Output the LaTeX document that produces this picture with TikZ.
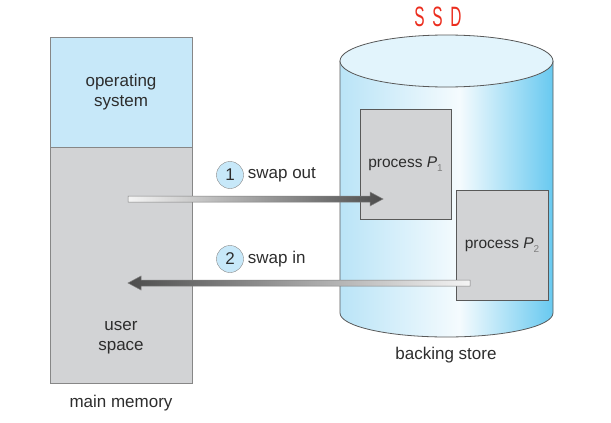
\documentclass[tikz,border=0pt]{standalone}
\usepackage{fontspec}
\setmainfont{Liberation Sans}
\usetikzlibrary{positioning}
\definecolor{osblue}{RGB}{199,232,249}
\definecolor{usergray}{RGB}{210,211,213}
\definecolor{edgegray}{RGB}{135,135,135}
\definecolor{textgray}{RGB}{45,45,45}
\definecolor{drumleft}{RGB}{186,228,247}
\definecolor{drumright}{RGB}{104,201,240}
\definecolor{drumtop}{RGB}{226,244,252}
\definecolor{ssdred}{RGB}{235,45,30}
\pgfdeclarehorizontalshading{drum}{100bp}{color(0bp)=(drumleft); color(25bp)=(drumleft); color(53bp)=(white!85!drumleft); color(75bp)=(drumright); color(100bp)=(drumright)}

\begin{document}
\begin{tikzpicture}[x=1pt,y=-1pt,
  txt/.style={text=textgray,font=\fontsize{17}{20}\selectfont,align=center,inner sep=1pt},
  membox/.style={draw=edgegray,line width=0.8pt,minimum width=142pt,inner sep=0pt,outer sep=0pt},
  procbox/.style={draw=black!65,fill=usergray,line width=0.8pt,minimum width=91pt,minimum height=110pt,
    text=textgray,font=\fontsize{15.5}{18}\selectfont,inner sep=1pt},
  numcirc/.style={circle,draw=edgegray,fill=osblue,minimum size=27pt,inner sep=0pt,
    text=textgray,font=\fontsize{17}{20}\selectfont}]
\useasboundingbox (0,0) rectangle (611,423);

\node[membox,fill=osblue,minimum height=110pt,txt] (os) at (121,92) {operating\\system};
\node[membox,fill=usergray,minimum height=236pt,below=0pt of os] (user) {};
\node[txt] (us) at (121,338) {user\\space};
\node[txt] (mm) at (121,403) {main memory};

\shade[shading=drum] (340,61) -- (340,313) arc[start angle=180,end angle=0,x radius=106.5,y radius=24]
  -- (553,61) arc[start angle=0,end angle=-180,x radius=106.5,y radius=26] -- cycle;
\draw[black!65,line width=0.8pt] (340,61) -- (340,313) arc[start angle=180,end angle=0,x radius=106.5,y radius=24] -- (553,61);
\filldraw[fill=drumtop,draw=black!65,line width=0.8pt] (446.5,61) ellipse [x radius=106.5,y radius=26];

\node[procbox] (p1) at (405.5,164) {process \textit{P}\raisebox{-4pt}{\fontsize{10}{10}\selectfont\color{gray}1}};
\node[procbox,minimum width=92pt] (p2) at (502,245) {process \textit{P}\raisebox{-4pt}{\fontsize{10}{10}\selectfont\color{gray}2}};

\coordinate (outs) at (128,199);
\coordinate (oute) at (383,199);
\shade[left color=gray!8,right color=black!70,draw=gray,line width=0.5pt]
  (outs) ++(0,-3) -- ++(242,0) -- ++(0,-4) -- (oute) -- ++(-13,7) -- ++(0,-4) -- ++(-242,0) -- cycle;
\coordinate (ins) at (470,283);
\coordinate (ine) at (128,283);
\shade[left color=black!70,right color=gray!8,draw=gray,line width=0.5pt]
  (ins) ++(0,-3) -- ++(-329,0) -- ++(0,-4) -- (ine) -- ++(13,7) -- ++(0,-4) -- ++(329,0) -- cycle;

\node[numcirc] (c1) at (230,175) {1};
\node[txt,right=3pt of c1] (so) {swap out};
\node[numcirc] (c2) at (230,259) {2};
\node[txt,right=3pt of c2] (si) {swap in};

\node[txt] (bs) at (446,355) {backing store};
\node[text=ssdred,font=\fontsize{28}{28}\selectfont,inner sep=0pt] (ssd) at (438,17)
  {\scalebox{0.55}[1]{S\kern14pt S\kern14pt D}};
\end{tikzpicture}
\end{document}
